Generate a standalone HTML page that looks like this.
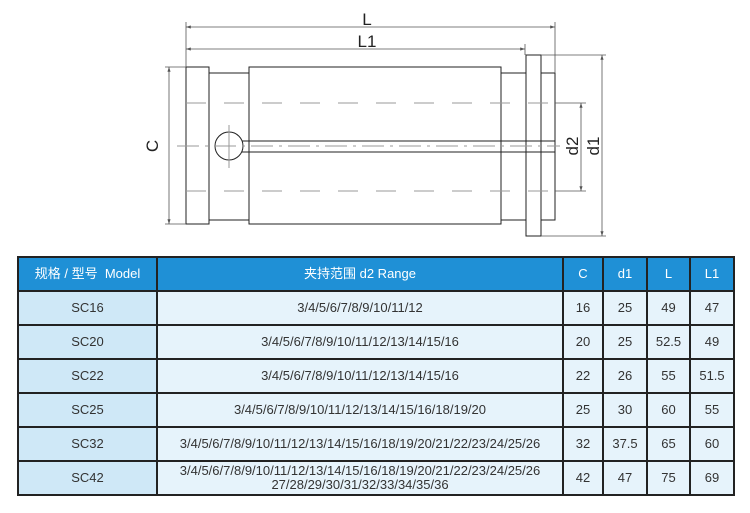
<!DOCTYPE html>
<html><head><meta charset="utf-8"><style>
body{margin:0;width:750px;height:513px;background:#fff;overflow:hidden;font-family:"Liberation Sans","Noto Sans CJK SC",sans-serif;}
svg{position:absolute;left:0;top:0}
table{position:absolute;left:17px;top:256px;border-collapse:collapse;font-size:13px;color:#333;}
td{border:2px solid #222;text-align:center;padding:0;background:#e6f3fb;line-height:14px}
tr.h td{background:#1f90d6;color:#fff;height:32px}
td.m{background:#cfe8f7}
tr.r td{height:32px}
</style></head><body>
<svg width="750" height="250" viewBox="0 0 750 250">
<defs><marker id="a" markerWidth="6" markerHeight="4" refX="6" refY="2" orient="auto-start-reverse"><path d="M0,0 L6,2 L0,4z" fill="#555"/></marker></defs>
<g stroke="#222" fill="none" stroke-width="1">
<rect x="186" y="67" width="23" height="157" fill="#fff"/>
<rect x="209" y="73" width="40" height="147"/>
<rect x="249" y="67" width="252" height="157"/>
<rect x="501" y="73" width="25" height="147"/>
<rect x="526" y="55" width="15" height="181"/>
<rect x="541" y="73" width="14" height="147"/>
<line x1="242" y1="141" x2="555" y2="141"/>
<line x1="242" y1="152" x2="555" y2="152"/>
</g>
<circle cx="229" cy="146" r="14" fill="#fff" stroke="#222"/>
<g stroke="#999" stroke-width="1">
<line x1="186" y1="103" x2="560" y2="103" stroke-dasharray="20 18"/>
<line x1="186" y1="191" x2="560" y2="191" stroke-dasharray="20 18"/>
<line x1="177" y1="146" x2="560" y2="146" stroke-dasharray="22 6 3 6"/>
<line x1="229" y1="125" x2="229" y2="168"/>
</g>
<g stroke="#555" stroke-width="0.8">
<line x1="186" y1="22" x2="186" y2="67"/>
<line x1="555" y1="22" x2="555" y2="73"/>
<line x1="525" y1="44" x2="525" y2="55"/>
<line x1="186" y1="27" x2="555" y2="27" marker-start="url(#a)" marker-end="url(#a)"/>
<line x1="186" y1="49" x2="525" y2="49" marker-start="url(#a)" marker-end="url(#a)"/>
<line x1="165" y1="67" x2="186" y2="67"/>
<line x1="165" y1="224" x2="186" y2="224"/>
<line x1="169" y1="67" x2="169" y2="224" marker-start="url(#a)" marker-end="url(#a)"/>
<line x1="555" y1="103" x2="586" y2="103"/>
<line x1="555" y1="191" x2="586" y2="191"/>
<line x1="581" y1="103" x2="581" y2="191" marker-start="url(#a)" marker-end="url(#a)"/>
<line x1="541" y1="55" x2="606" y2="55"/>
<line x1="541" y1="236" x2="606" y2="236"/>
<line x1="602" y1="55" x2="602" y2="236" marker-start="url(#a)" marker-end="url(#a)"/>
</g>
<g fill="#222" font-family="Liberation Sans,sans-serif" font-size="17">
<text x="367" y="25" text-anchor="middle">L</text>
<text x="367" y="47" text-anchor="middle">L1</text>
<text transform="translate(158,146) rotate(-90)" text-anchor="middle">C</text>
<text transform="translate(578,146) rotate(-90)" text-anchor="middle">d2</text>
<text transform="translate(599,146) rotate(-90)" text-anchor="middle">d1</text>
</g>
</svg>
<table>
<tr class="h"><td style="width:137px">规格 / 型号&nbsp; Model</td><td style="width:404px">夹持范围 d2 Range</td><td style="width:38px">C</td><td style="width:42px">d1</td><td style="width:41px">L</td><td style="width:42px">L1</td></tr>
<tr class="r"><td class="m">SC16</td><td>3/4/5/6/7/8/9/10/11/12</td><td>16</td><td>25</td><td>49</td><td>47</td></tr>
<tr class="r"><td class="m">SC20</td><td>3/4/5/6/7/8/9/10/11/12/13/14/15/16</td><td>20</td><td>25</td><td>52.5</td><td>49</td></tr>
<tr class="r"><td class="m">SC22</td><td>3/4/5/6/7/8/9/10/11/12/13/14/15/16</td><td>22</td><td>26</td><td>55</td><td>51.5</td></tr>
<tr class="r"><td class="m">SC25</td><td>3/4/5/6/7/8/9/10/11/12/13/14/15/16/18/19/20</td><td>25</td><td>30</td><td>60</td><td>55</td></tr>
<tr class="r"><td class="m">SC32</td><td>3/4/5/6/7/8/9/10/11/12/13/14/15/16/18/19/20/21/22/23/24/25/26</td><td>32</td><td>37.5</td><td>65</td><td>60</td></tr>
<tr class="r"><td class="m">SC42</td><td>3/4/5/6/7/8/9/10/11/12/13/14/15/16/18/19/20/21/22/23/24/25/26<br>27/28/29/30/31/32/33/34/35/36</td><td>42</td><td>47</td><td>75</td><td>69</td></tr>
</table>
</body></html>
